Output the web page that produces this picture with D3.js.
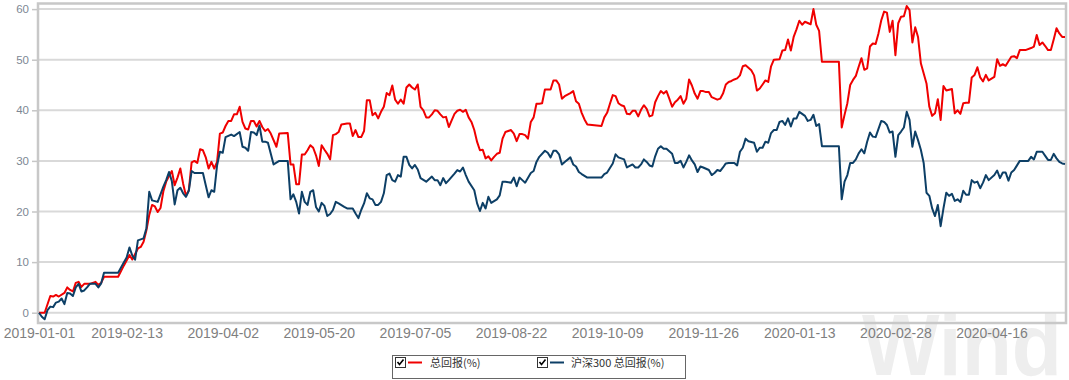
<!DOCTYPE html>
<html><head><meta charset="utf-8">
<script src="https://cdn.jsdelivr.net/npm/d3@7"></script>
<style>body{margin:0;background:#fff;} svg{display:block;}</style>
</head><body><svg id="c" width="1069" height="380"></svg>
<script>
// x categories: weekday number counted from 2019-01-01 (index 0); tick labels are dates
const tickLabels = ["2019-01-01","2019-02-13","2019-04-02","2019-05-20","2019-07-05","2019-08-22","2019-10-09","2019-11-26","2020-01-13","2020-02-28","2020-04-16"];
const lastDay = 363; // 2020-05-22
const yTicks = [0,10,20,30,40,50,60];
const seriesNames = ["总回报(%)","沪深300 总回报(%)"];

const totalReturnDays = [0,2,4,5,6,7,9,10,11,12,13,14,15,16,18,19,20,21,22,23,28,30,31,32,33,35,36,37,38,39,40,41,42,43,44,45,46,47,48,49,50,51,52,53,54,55,56,57,58,59,60,61,62,63,64,65,66,67,68,69,70,71,72,73,74,75,76,77,78,79,80,81,82,84,85,88,89,90,91,92,93,94,95,96,97,98,99,100,101,102,103,104,105,106,107,109,110,111,112,113,114,115,116,117,118,119,120,121,122,123,124,125,126,127,128,129,130,131,132,133,134,135,136,137,138,139,140,141,142,143,144,145,146,147,148,149,150,151,152,153,154,155,156,157,158,159,160,161,162,163,164,165,167,168,169,170,171,172,173,174,175,176,177,178,179,181,182,183,184,185,186,188,189,190,191,192,193,194,199,200,201,202,203,204,205,206,207,208,209,210,211,212,213,214,215,216,217,218,219,220,221,222,223,224,225,226,227,228,229,230,231,232,233,234,235,236,237,238,240,241,242,243,244,245,246,247,248,249,250,252,253,254,255,256,257,258,259,260,262,263,264,265,266,267,268,269,270,271,273,274,275,276,277,283,284,285,286,287,288,289,290,291,292,293,294,295,296,297,298,299,300,301,302,303,304,305,306,307,308,309,310,311,312,314,315,316,317,318,319,320,321,323,324,325,326,327,328,329,330,331,332,333,334,335,336,338,339,340,341,342,344,345,346,347,349,351,352,353,354,355,356,357,358,359,360,361,362,363];
const totalReturn = [0,0,3.3,3.2,3.5,3.2,3.9,5.0,4.5,4.2,5.9,6.1,5.1,5.7,5.7,5.9,6.1,5.5,5.9,7.1,7.1,9.3,10.3,11.4,10.5,12.7,13.0,14.0,16.3,19.3,21.3,21.0,19.9,20.7,24.0,25.9,27.0,28.0,25.2,26.7,28.5,25.5,23.1,24.2,29.7,30.0,29.6,32.3,32.1,30.7,28.5,29.8,28.5,29.8,35.4,35.6,36.9,37.9,37.9,39.2,39.2,40.7,37.7,36.4,36.2,37.9,37.9,36.8,37.9,36.7,35.9,36.3,35.4,32.8,35.4,35.5,29.3,29.3,25.4,25.4,31.25,31.25,32.1,33.1,32.6,31.1,29.0,33.1,32.2,31.4,30.3,35.1,35.3,35.7,37.2,37.4,37.4,34.9,36.1,34.7,34.7,35.9,42.0,42.0,39.0,39.5,38.4,39.7,40.7,43.4,43.0,44.9,42.1,41.3,42.1,41.3,44.5,45.1,44.5,44.1,45.1,40.7,40.0,38.6,38.6,39.2,40.0,39.9,39.2,38.6,38.7,36.7,38.0,39.3,39.9,40.1,39.7,40.1,38.6,37.7,36.1,33.75,32.1,32.2,30.5,30.9,30.1,30.8,31.4,31.6,34.4,35.7,36.1,35.4,33.9,35.3,35.3,35.1,34.4,37.7,38.6,41.3,41.3,41.4,44.1,44.1,45.9,45.9,45.1,42.3,42.8,43.4,43.8,41.8,41.3,39.5,38.2,37.2,36.9,38.6,39.5,41.3,43.0,42.8,41.4,41.0,40.8,39.3,39.2,39.9,39.9,38.8,40.1,41.0,40.3,38.8,39.0,41.6,42.8,43.8,43.3,43.8,42.3,40.7,41.6,42.1,42.8,41.3,42.3,46.1,44.9,43.3,42.3,43.8,43.8,43.6,43.6,42.6,42.1,42.3,43.3,45.1,45.6,45.8,46.1,46.3,46.9,48.7,48.9,47.9,46.9,43.9,44.3,45.1,45.9,45.6,48.7,50.0,50.1,51.8,51.9,54.0,51.8,54.5,56.0,57.7,56.9,57.5,57.0,60.0,56.9,55.7,49.6,49.6,36.6,39.1,41.4,45.0,46.0,46.8,48.6,50.3,48.0,48.3,52.6,53.2,53.1,55.2,57.8,59.5,59.3,55.5,57.7,50.9,57.2,58.5,58.6,60.6,59.8,53.4,56.4,54.5,49.3,45.3,40.7,38.9,39.4,42.2,38.1,44.8,43.9,44.2,39.4,40.0,39.3,41.4,41.5,41.5,46.5,47.0,48.5,46.5,45.7,47.0,45.9,46.6,50.1,48.8,49.1,48.8,50.6,50.7,50.3,51.9,51.9,52.3,52.6,54.9,52.9,53.4,52.7,51.9,51.9,54.0,56.2,55.2,54.5,54.5];

const hs300Days = [0,1,2,3,4,5,6,7,8,9,10,11,12,13,14,15,16,17,18,20,21,22,23,28,30,31,32,33,34,35,36,37,38,39,40,42,44,45,46,47,48,49,50,51,52,53,54,55,58,59,60,61,62,63,64,65,66,68,69,71,72,73,74,75,76,77,78,79,80,81,83,85,88,89,90,91,92,93,94,95,96,97,98,99,100,101,102,103,104,105,106,108,109,111,112,113,114,115,116,117,118,119,120,121,122,123,124,125,126,127,128,129,130,131,132,133,134,135,137,139,140,141,142,143,144,145,147,148,149,150,151,152,154,155,156,157,158,159,160,162,163,164,165,167,168,169,170,171,172,174,175,176,177,179,180,181,182,183,184,185,186,188,189,190,191,192,194,199,200,201,203,204,205,206,207,208,209,210,211,212,213,214,215,216,217,218,219,220,221,222,224,225,226,227,228,229,230,231,232,233,234,235,237,238,239,240,241,242,243,244,246,247,248,249,250,251,253,254,255,256,257,258,259,260,261,262,263,264,265,266,267,268,269,271,272,273,274,275,276,277,283,284,285,286,287,288,289,290,291,292,293,294,295,296,298,299,300,301,302,303,304,305,306,307,308,309,310,311,312,313,314,315,316,317,318,319,320,321,322,323,324,325,326,327,328,329,330,331,332,333,334,335,336,338,339,340,341,342,343,344,345,347,350,351,352,353,355,356,357,358,359,360,361,362,363];
const hs300Return = [0,-0.8,-1.3,0.5,1.2,1.1,2.0,2.2,2.8,1.7,3.9,3.8,3.3,5.0,5.7,4.2,4.4,5.0,5.7,5.7,5.0,5.8,7.9,7.9,9.9,10.9,12.9,11.3,10.5,14.3,14.5,14.7,16.7,23.9,22.2,21.9,24.9,26.2,27.8,26.0,21.4,24.2,24.7,23.6,22.9,24.1,28.0,27.6,27.6,25.2,22.8,24.2,23.9,29.1,31.8,31.6,34.7,35.2,34.9,35.7,32.8,32.6,32.0,35.7,35.6,35.1,37.0,33.8,33.8,33.6,29.3,30.0,30.0,22.4,23.4,21.9,19.6,23.9,21.9,21.3,23.9,24.2,20.9,20.0,21.7,21.1,19.1,19.5,20.3,21.9,21.6,20.9,20.6,20.6,19.6,18.7,20.3,21.6,23.6,22.6,22.4,21.3,21.3,21.9,23.6,27.2,27.5,26.2,25.9,27.2,26.9,30.8,30.8,29.2,28.5,29.2,28.3,26.6,25.9,26.9,26.2,26.2,25.2,26.6,25.6,26.2,27.5,28.2,27.9,28.7,27.2,25.9,24.2,21.6,20.1,21.7,20.6,22.9,21.7,22.4,23.2,25.9,25.9,25.7,26.7,25.0,26.7,26.2,25.7,27.6,28.0,29.8,30.8,32.0,31.6,30.7,32.0,32.0,31.3,29.3,29.8,30.7,29.3,28.9,27.8,27.4,26.7,26.7,27.4,27.7,29.5,31.3,30.7,30.5,30.3,28.7,29.0,29.3,28.7,28.7,29.3,30.3,29.8,29.1,28.9,30.9,32.4,32.9,32.4,32.4,31.4,29.6,29.6,30.0,28.7,29.8,31.1,30.1,29.3,27.8,28.9,28.7,28.2,27.2,27.6,28.2,28.0,28.7,29.5,29.6,29.6,29.1,31.8,32.6,34.4,33.9,33.6,31.8,32.6,32.6,33.8,33.6,35.5,36.1,36.1,37.7,37.9,37.1,38.4,36.8,38.4,38.4,39.7,38.9,37.9,38.1,39.1,36.9,37.3,32.9,32.9,22.4,25.9,27.2,29.6,29.6,30.3,31.5,32.3,31.5,33.8,35.6,34.8,34.7,37.9,37.7,37.1,35.6,35.8,30.8,35.1,35.8,36.6,39.7,38.1,32.8,35.8,34.1,32.2,29.6,23.7,23.1,20.6,19.1,21.3,17.1,20.6,23.7,23.1,23.5,22.1,22.4,21.9,24.1,23.3,23.3,26.2,25.7,25.9,24.6,25.7,27.2,26.2,27.2,28.1,26.6,27.7,27.7,26.1,27.7,28.2,30.0,30.0,30.8,30.3,31.8,31.8,31.0,30.2,30.2,31.4,30.5,29.8,29.5,29.4];

const seriesColors = ["#f00000","#0d3f66"];

// weekday number of a date counted from 2019-01-01 (a Tuesday)
function weekdayIndex(s){
  const [yy,mm,dd] = s.split("-").map(Number);
  const days = Math.round((Date.UTC(yy,mm-1,dd) - Date.UTC(2019,0,1)) / 864e5);
  const weeks = Math.floor(days/7);
  let n = weeks*5;
  for(let i=1;i<=days%7;i++){ const dow=(2+weeks*7+i)%7; if(dow!==0&&dow!==6) n++; }
  return n;
}

const svg = d3.select("#c");
const L=38, R=1066, T=3.5, B=323;
const x = d3.scaleLinear().domain([0,lastDay]).range([39,1065]);
const y = d3.scaleLinear().domain([0,60]).range([312.7,9.1]);

// watermark
svg.append("text").attr("x",862).attr("y",375).attr("font-family","Liberation Sans, Arial, sans-serif")
  .attr("font-weight","bold").attr("font-size",88).attr("fill","#eeeeee")
  .attr("textLength",200).attr("lengthAdjust","spacingAndGlyphs").text("Wind");

// grid
svg.append("g").selectAll("line").data(yTicks).join("line")
  .attr("x1",L).attr("x2",R).attr("y1",d=>y(d)).attr("y2",d=>y(d))
  .attr("stroke","#d9d9d9").attr("stroke-width",2);

// y axis ticks & labels
const yAxis = d3.axisLeft(y).tickValues(yTicks).tickSize(6).tickPadding(3).tickFormat(d3.format("d"));
const gy = svg.append("g").attr("transform",`translate(${L},0)`).call(yAxis);
gy.select(".domain").remove();
gy.selectAll(".tick line").attr("stroke","#c6c6c6").attr("stroke-width",1.5);
gy.selectAll(".tick text").attr("fill","#7d8794").attr("font-size",11.5).attr("font-family","Liberation Sans, Arial, sans-serif");

// x axis labels
const tickPos = tickLabels.map(weekdayIndex);
const xAxis = d3.axisBottom(x).tickValues(tickPos).tickSize(0).tickPadding(5).tickFormat((d,i)=>tickLabels[i]);
const gx = svg.append("g").attr("transform",`translate(0,${B})`).call(xAxis);
gx.select(".domain").remove();
gx.selectAll(".tick text").attr("fill","#7f7f7f").attr("font-size",14).attr("font-family","Liberation Sans, Arial, sans-serif");

// frame
svg.append("rect").attr("x",L).attr("y",T).attr("width",R-L).attr("height",B-T)
  .attr("fill","none").attr("stroke","#c8c8c8").attr("stroke-width",2.5);

// lines
const line = d3.line().x(d=>x(d[0])).y(d=>y(d[1]));
const series = [
  d3.zip(totalReturnDays,totalReturn),
  d3.zip(hs300Days,hs300Return)
];
svg.append("g").selectAll("path").data(series).join("path")
  .attr("d",line).attr("fill","none").attr("stroke",(d,i)=>seriesColors[i])
  .attr("stroke-width",2).attr("stroke-linejoin","round");

// legend
const lg = svg.append("g");
lg.append("rect").attr("x",392.5).attr("y",355.5).attr("width",293).attr("height",23)
  .attr("fill","#fff").attr("stroke","#666").attr("stroke-width",1);
const items = [{x:395},{x:537}];
items.forEach((it,i)=>{
  const g = lg.append("g").attr("transform",`translate(${it.x},357)`);
  g.append("rect").attr("x",0.5).attr("y",0.5).attr("width",10).attr("height",10).attr("fill","#fff").attr("stroke","#333");
  g.append("path").attr("d","M2.5,5 L4.5,7.5 L8.5,2.5").attr("fill","none").attr("stroke","#000").attr("stroke-width",1.6);
  g.append("line").attr("x1",13).attr("x2",27).attr("y1",5.5).attr("y2",5.5).attr("stroke",seriesColors[i]).attr("stroke-width",2);
  g.append("text").attr("x",i===0?35:34).attr("y",9.5).attr("font-size",11).attr("fill","#333")
    .attr("font-family","Noto Sans CJK SC, sans-serif").text(seriesNames[i]);
});
</script></body></html>
